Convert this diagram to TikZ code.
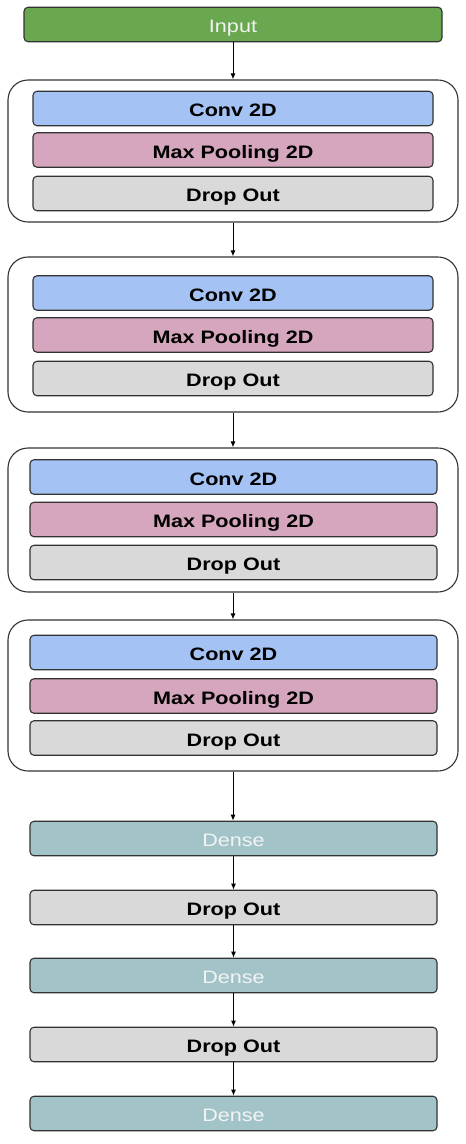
\documentclass[tikz,border=0pt]{standalone}
\usepackage{fontspec}
\setmainfont{Liberation Sans}
\usepackage{graphicx}
\usetikzlibrary{arrows.meta}
\definecolor{inputc}{HTML}{6AA84F}
\definecolor{convc}{HTML}{A4C2F4}
\definecolor{poolc}{HTML}{D5A6BD}
\definecolor{dropc}{HTML}{D9D9D9}
\definecolor{densec}{HTML}{A2C4C9}
\definecolor{edgec}{HTML}{333333}
\definecolor{lighttext}{HTML}{F3F3F3}
\newcommand{\wtxt}[1]{\scalebox{1.2}[1]{#1}}
\tikzset{
  layer/.style={draw=edgec, line width=1.1pt, rounded corners=4pt, inner sep=0pt,
    minimum height=34.5pt, text height=16.5pt, text depth=0pt, text=black,
    font=\fontsize{18}{20}\selectfont\bfseries},
  convbox/.style={layer, fill=convc},
  poolbox/.style={layer, fill=poolc},
  dropbox/.style={layer, fill=dropc},
  densebox/.style={layer, fill=densec, text=lighttext, font=\fontsize{18}{20}\selectfont},
  inputbox/.style={layer, fill=inputc, text=lighttext, font=\fontsize{18}{20}\selectfont},
  group/.style={draw=edgec, line width=1.1pt, rounded corners=20pt, fill=white, inner sep=0pt, minimum width=450pt},
  flow/.style={-{Latex[length=6pt,width=5pt]}, line width=1pt, black},
}
\begin{document}
\begin{tikzpicture}[x=1pt,y=-1pt]
\useasboundingbox (0,0) rectangle (466,1144);
% input
\node[inputbox, minimum width=418pt] (in) at (233,24.5) {\wtxt{Input}};
% group 1
\node[group, minimum height=142pt] (g1) at (233,151) {};
\node[convbox, minimum width=400pt] (c1) at (233,108.5) {\wtxt{Conv 2D}};
\node[poolbox, minimum width=400pt] (p1) at (233,150) {\wtxt{Max Pooling 2D}};
\node[dropbox, minimum width=400pt] (d1) at (233,193.5) {\wtxt{Drop Out}};
% group 2
\node[group, minimum height=155pt] (g2) at (233,334.5) {};
\node[convbox, minimum width=400pt] (c2) at (233,293) {\wtxt{Conv 2D}};
\node[poolbox, minimum width=400pt] (p2) at (233,335) {\wtxt{Max Pooling 2D}};
\node[dropbox, minimum width=400pt] (d2) at (233,378.5) {\wtxt{Drop Out}};
% group 3
\node[group, minimum height=144pt] (g3) at (233,520) {};
\node[convbox, minimum width=407pt] (c3) at (233.5,477) {\wtxt{Conv 2D}};
\node[poolbox, minimum width=407pt] (p3) at (233.5,519.5) {\wtxt{Max Pooling 2D}};
\node[dropbox, minimum width=407pt] (d3) at (233.5,562.5) {\wtxt{Drop Out}};
% group 4
\node[group, minimum height=151pt] (g4) at (233,695.5) {};
\node[convbox, minimum width=407pt] (c4) at (233.5,652.5) {\wtxt{Conv 2D}};
\node[poolbox, minimum width=407pt] (p4) at (233.5,696) {\wtxt{Max Pooling 2D}};
\node[dropbox, minimum width=407pt] (d4) at (233.5,738) {\wtxt{Drop Out}};
% dense part
\node[densebox, minimum width=407pt] (de1) at (233.5,838.5) {\wtxt{Dense}};
\node[dropbox, minimum width=407pt] (do1) at (233.5,907.5) {\wtxt{Drop Out}};
\node[densebox, minimum width=407pt] (de2) at (233.5,975.5) {\wtxt{Dense}};
\node[dropbox, minimum width=407pt] (do2) at (233.5,1044.5) {\wtxt{Drop Out}};
\node[densebox, minimum width=407pt] (de3) at (233.5,1113.5) {\wtxt{Dense}};
% connectors
\draw[flow] (in.south) -- (in.south |- g1.north);
\draw[flow] (g1.south) -- (g2.north);
\draw[flow] (g2.south) -- (g3.north);
\draw[flow] (g3.south) -- (g4.north);
\draw[flow] (g4.south) -- (g4.south |- de1.north);
\draw[flow] (de1.south) -- (do1.north);
\draw[flow] (do1.south) -- (de2.north);
\draw[flow] (de2.south) -- (do2.north);
\draw[flow] (do2.south) -- (de3.north);
\end{tikzpicture}
\end{document}
